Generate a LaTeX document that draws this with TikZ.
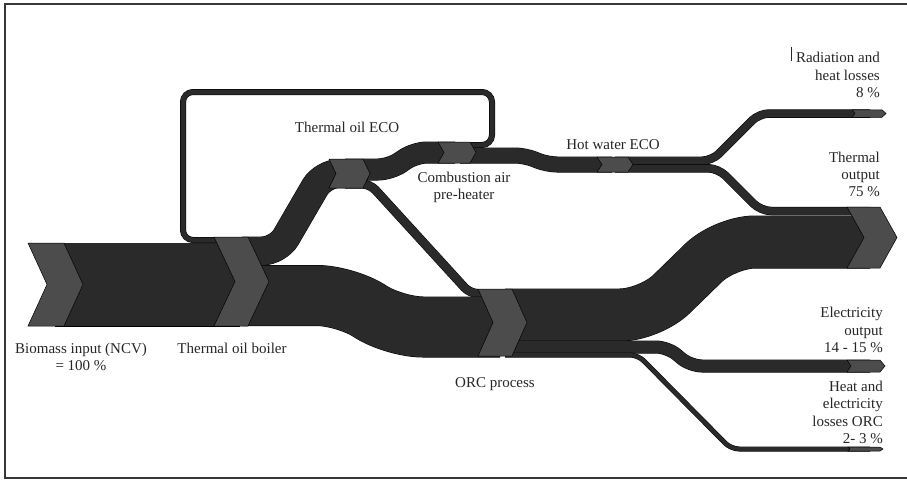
\documentclass[tikz,border=0pt]{standalone}
\usepackage{fontspec}
\setmainfont{Liberation Serif}
\definecolor{bandgray}{RGB}{42,42,42}
\definecolor{stagegray}{RGB}{76,76,76}
\definecolor{framegray}{RGB}{55,55,55}
\definecolor{textgray}{RGB}{38,38,38}
\begin{document}
\begin{tikzpicture}
    [
  x=1pt, y=-1pt,
  flow/.style={
    draw=black,
    line width=0.5pt,
    double=bandgray,
    double distance=#1
  },
  stage/.style={
    fill=stagegray,
    draw=black,
    line width=0.5pt
  },
  lbl/.style={
    font=\fontsize{15}{17.3}\selectfont,
    text=textgray,
    inner sep=0pt,
    align=center
  },
  lblr/.style={
    lbl,
    align=right,
    anchor=east
  }
  ]
  \useasboundingbox (0,0) rectangle (907,480);
  \draw [framegray, line width=1.5pt] (907,4) -- (5,4) -- (5,478) -- (907,478);

  % flows
  \draw [flow=83pt] (55,284.5) -- (240,284.5);
  \draw [flow=5pt, rounded corners=10] (466,145) -- (492,145) -- (492,92) -- (183,92) -- (183,240) -- (242,240);
  \draw [flow=28pt, rounded corners=16] (242,251) -- (278,251) -- (323,173.5) -- (345,173.5);
  \draw [flow=8pt, rounded corners=8] (345,184) -- (370,184) -- (470,293.5) -- (500,293.5);
  \draw [flow=60pt, rounded corners=28] (242,295.5) -- (345,295.5) -- (395,327) -- (500,327);
  \draw [flow=21pt, rounded corners=12] (345,169.5) -- (390,169.5) -- (415,152.5) -- (455,152.5);
  \draw [flow=15pt, rounded corners=10] (460,155.5) -- (525,155.5) -- (547,164.5) -- (612,164.5);
  \draw [flow=7.5pt, rounded corners=10] (615,160.75) -- (712,160.75) -- (759,113.5) -- (870,113.5);
  \draw [flow=7.5pt, rounded corners=10] (615,168.25) -- (718,168.25) -- (761,211) -- (870,211);
  \draw [flow=52pt, rounded corners=30] (505,315) -- (650,315) -- (725,242) -- (870,242);
  \draw [flow=12pt, rounded corners=12] (505,347) -- (668,347) -- (690,366) -- (870,366);
  \draw [flow=4pt, rounded corners=8] (505,355) -- (638,355) -- (731,449) -- (870,449);

  % stages
  \draw [stage] (28,243) -- (64,243) -- (83,284.5) -- (64,326) -- (28,326) -- (47,284.5) -- cycle;
  \draw [stage] (214,237) -- (248,237) -- (269,281.5) -- (248,326) -- (214,326) -- (235,281.5) -- cycle;
  \draw [stage] (329,159) -- (363,159) -- (370,173.5) -- (363,188) -- (329,188) -- (336,173.5) -- cycle;
  \draw [stage] (438,142) -- (470,142) -- (476,152.5) -- (470,163) -- (438,163) -- (444,152.5) -- cycle;
  \draw [stage] (597,157) -- (628,157) -- (633,164.5) -- (628,172) -- (597,172) -- (602,164.5) -- cycle;
  \draw [stage] (478,289) -- (512,289) -- (527,322.5) -- (512,356) -- (478,356) -- (493,322.5) -- cycle;
  \draw [stage] (852,109.75) -- (882,109.75) -- (886,113.5) -- (882,117.25) -- (852,117.25) -- (855,113.5) -- cycle;
  \draw [stage] (847,207) -- (880,207) -- (897,237.5) -- (880,268) -- (847,268) -- (864,237.5) -- cycle;
  \draw [stage] (847,360) -- (880,360) -- (885,366) -- (880,372) -- (847,372) -- (851,366) -- cycle;
  \draw [stage] (848,447) -- (880,447) -- (883,449) -- (880,451) -- (848,451) -- (850,449) -- cycle;

  % labels
  \node (biomass) at (81,357) [lbl] {Biomass input (NCV)\\= 100 \%};
  \node (boiler) at (232,348) [lbl] {Thermal oil boiler};
  \node (oileco) at (347,127) [lbl] {Thermal oil ECO};
  \node (airpre) at (464,187.5) [lbl] {Combustion air\\pre-heater};
  \node (hweco) at (613,145) [lbl] {Hot water ECO};
  \node (orc) at (495,384) [lbl] {ORC process};
  \node (radloss) at (880,75) [lblr] {Radiation and\\heat losses\\8 \%};
  \node (thermout) at (880,174.5) [lblr] {Thermal\\output\\75 \%};
  \node (elecout) at (883,330) [lblr] {Electricity\\output\\14 - 15 \%};
  \node (orcloss) at (883,412.5) [lblr] {Heat and\\electricity\\losses ORC\\2- 3 \%};
  \draw [textgray, line width=1pt] (791,47) -- (791,61);
\end{tikzpicture}
\end{document}
